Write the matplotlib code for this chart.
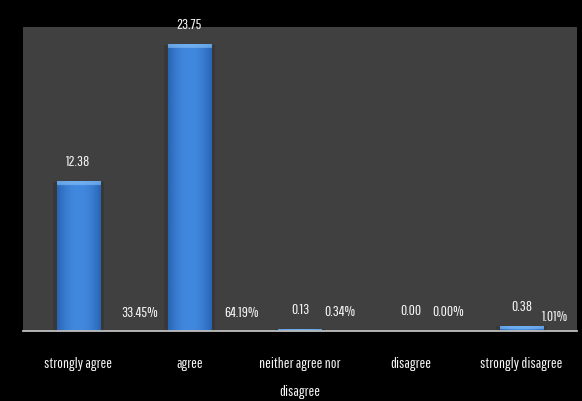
import numpy as np
import matplotlib
matplotlib.use("Agg")
import matplotlib.pyplot as plt
import matplotlib.colors as mcolors

# data
categories = ["strongly agree", "agree", "neither agree nor\ndisagree", "disagree", "strongly disagree"]
counts = [12.38, 23.75, 0.13, 0.00, 0.38]
percents = [33.45, 64.19, 0.34, 0.00, 1.01]

# where the percent labels sit (category units / data units)
pct_dx = [0.55, 0.47, 0.36, 0.34, 0.30]
pct_y = [1.6, 1.6, 1.65, 1.65, 1.25]

plt.rcParams['font.family'] = ['Pathway Gothic One', 'DejaVu Sans']
txt_color = '#f5f5f5'
fs = 11

fig = plt.figure(figsize=(5.82, 4.02), dpi=100, facecolor='black')
ax = fig.add_axes([0.0395, 0.174, 0.952, 0.756])
ax.set_facecolor('#404040')

x = np.arange(len(categories))
bar_w = 0.39

# soft dark shadow behind the bars
ax.bar(x, counts, width=bar_w + 0.07, color='#333333', alpha=0.6, zorder=1)
bars = ax.bar(x, counts, width=bar_w, color='#3f86dc', zorder=2)

# gradient fill + light top cap for each bar
base = np.array(mcolors.to_rgb('#4189df'))
edge = np.array(mcolors.to_rgb('#2a64b5'))
cap = np.array(mcolors.to_rgb('#86c2fa'))
cols, rows = 40, 300
t = np.abs(np.linspace(-1, 1, cols)) ** 2
for b in bars:
    x0, w, h = b.get_x(), b.get_width(), b.get_height()
    if h <= 0:
        continue
    row = base[None, :] * (1 - t[:, None]) + edge[None, :] * t[:, None]
    img = np.repeat(row[None, :, :], rows, axis=0)
    cap_h = min(0.35, h * 0.6)
    yy = (np.arange(rows) + 0.5) / rows * h
    m = yy > h - cap_h
    img[m] = img[m] * 0.35 + cap * 0.65
    ax.imshow(img, extent=(x0, x0 + w, 0, h), origin='lower', aspect='auto',
              interpolation='bilinear', zorder=3)

# value labels
ax.bar_label(bars, labels=[f"{v:.2f}" for v in counts], padding=10,
             color=txt_color, fontsize=fs, clip_on=False)
for i, p in enumerate(percents):
    ax.text(x[i] + pct_dx[i], pct_y[i], f"{p:.2f}%", ha='center', va='center',
            color=txt_color, fontsize=fs, zorder=4)

ax.set_xlim(-0.5, len(categories) - 0.5)
ax.set_ylim(0, 25.2)
ax.set_xticks(x)
ax.set_xticklabels(categories, color=txt_color, fontsize=fs, linespacing=2.25)
ax.tick_params(axis='x', length=0, pad=18)
ax.set_yticks([])
for s in ['top', 'right', 'left']:
    ax.spines[s].set_visible(False)
ax.spines['bottom'].set_color('#bfbfbf')
ax.spines['bottom'].set_linewidth(1.3)
ax.spines['bottom'].set_zorder(5)

fig.savefig("out.png", dpi=100, facecolor='black')
